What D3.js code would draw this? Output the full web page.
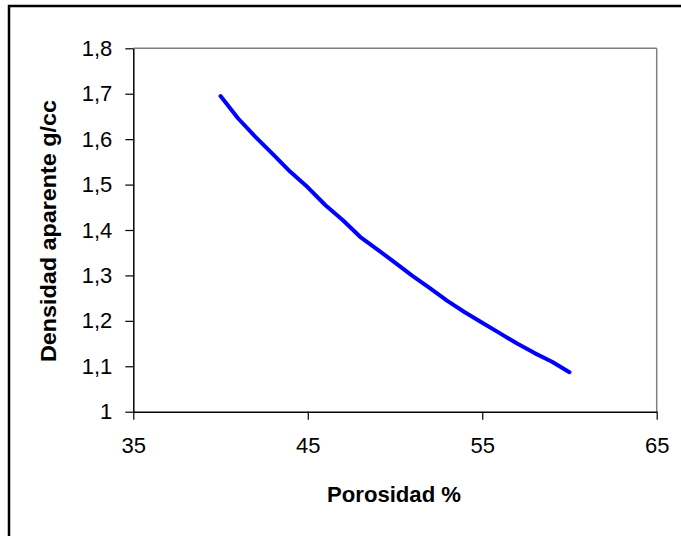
<!DOCTYPE html>
<html>
<head>
<meta charset="utf-8">
<script src="https://cdn.jsdelivr.net/npm/d3@7"></script>
<style>
  html, body { margin: 0; padding: 0; background: #fff; }
  svg { display: block; }
  text { font-family: "Liberation Sans", Arial, sans-serif; fill: #000; }
</style>
</head>
<body>
<script>
// ---- data ----
const porosidad = [40, 41, 42, 43, 44, 45, 46, 47, 48, 49, 50, 51, 52, 53, 54, 55, 56, 57, 58, 59, 60];
const densidad  = [1.695, 1.646, 1.605, 1.567, 1.528, 1.494, 1.455, 1.422, 1.385, 1.357, 1.328,
                   1.299, 1.272, 1.244, 1.219, 1.196, 1.173, 1.150, 1.129, 1.110, 1.087];
const xTicks = [35, 45, 55, 65];
const yTicks = [1, 1.1, 1.2, 1.3, 1.4, 1.5, 1.6, 1.7, 1.8];
const xTitle = "Porosidad %";
const yTitle = "Densidad aparente g/cc";

const W = 681, H = 536;
const plot = { left: 133.3, right: 656.7, top: 48.3, bottom: 411.7 };

const svg = d3.select("body").append("svg").attr("width", W).attr("height", H);

// outer chart border (extends beyond right/bottom edges)
svg.append("rect").attr("x", 9).attr("y", 6).attr("width", 700).attr("height", 560)
  .attr("fill", "none").attr("stroke", "#000").attr("stroke-width", 2.5);

const x = d3.scaleLinear().domain([35, 65]).range([plot.left, plot.right]);
const y = d3.scaleLinear().domain([1, 1.8]).range([plot.bottom, plot.top]);

// top & right frame lines (gray)
svg.append("line").attr("x1", plot.left).attr("x2", plot.right).attr("y1", plot.top).attr("y2", plot.top)
  .attr("stroke", "#808080").attr("stroke-width", 1.5);
svg.append("line").attr("x1", plot.right).attr("x2", plot.right).attr("y1", plot.top).attr("y2", plot.bottom)
  .attr("stroke", "#808080").attr("stroke-width", 1.5);

const fmt = d => d3.format(".1~f")(d).replace(".", ",");

// x axis
const xAxis = svg.append("g").attr("transform", `translate(0,${plot.bottom})`)
  .call(d3.axisBottom(x).tickValues(xTicks).tickSize(8).tickSizeOuter(0).tickPadding(18).tickFormat(d => d));
xAxis.select(".domain").attr("stroke", "#000").attr("stroke-width", 1.5);
xAxis.selectAll(".tick line").attr("stroke", "#000").attr("stroke-width", 1.2);
xAxis.selectAll(".tick text").style("font-size", "22px")
  .attr("font-family", "'Liberation Sans', Arial, sans-serif").attr("fill", "#000");

// y axis
const yAxis = svg.append("g").attr("transform", `translate(${plot.left},0)`)
  .call(d3.axisLeft(y).tickValues(yTicks).tickSize(8).tickSizeOuter(0).tickPadding(13).tickFormat(fmt));
yAxis.select(".domain").attr("stroke", "#000").attr("stroke-width", 1.5);
yAxis.selectAll(".tick line").attr("stroke", "#000").attr("stroke-width", 1.2);
yAxis.selectAll(".tick text").style("font-size", "22px")
  .attr("font-family", "'Liberation Sans', Arial, sans-serif").attr("fill", "#000");

// titles
svg.append("text").attr("x", 394).attr("y", 502).attr("text-anchor", "middle")
  .style("font-size", "22px").attr("font-weight", "bold")
  .attr("textLength", 134).attr("lengthAdjust", "spacingAndGlyphs").text(xTitle);

svg.append("text").attr("transform", "translate(56,231) rotate(-90)").attr("text-anchor", "middle")
  .style("font-size", "22px").attr("font-weight", "bold")
  .attr("textLength", 262).attr("lengthAdjust", "spacingAndGlyphs").text(yTitle);

// curve
const line = d3.line().x(d => x(d[0])).y(d => y(d[1]));
svg.append("path").datum(porosidad.map((p, i) => [p, densidad[i]]))
  .attr("d", line).attr("fill", "none").attr("stroke", "#0000FF")
  .attr("stroke-width", 4).attr("stroke-linejoin", "round").attr("stroke-linecap", "round");
</script>
</body>
</html>
